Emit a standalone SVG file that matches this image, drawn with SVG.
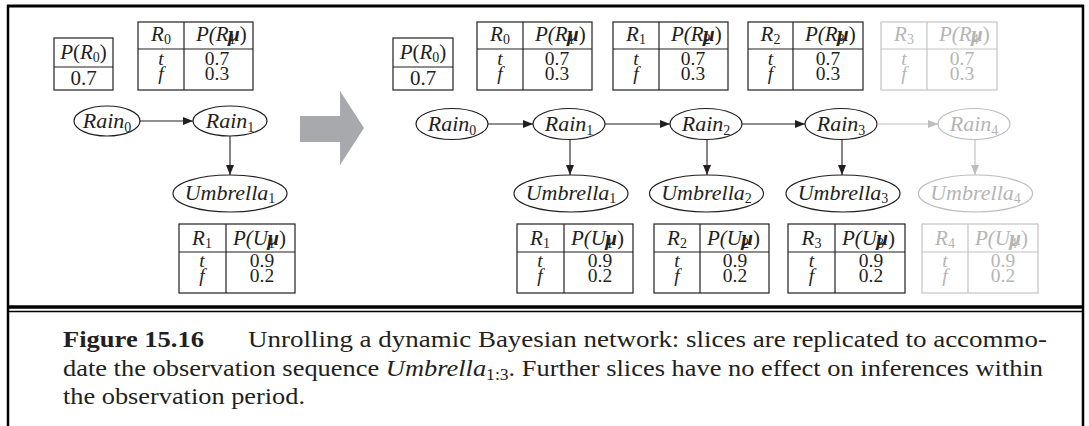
<svg xmlns="http://www.w3.org/2000/svg" width="1089" height="426" viewBox="0 0 1089 426" font-family="'Liberation Serif', 'Times New Roman', Tinos, Times, serif">
<style>
.frame{stroke:#000;fill:none}
.tb{fill:none;stroke:#231f20;stroke-width:1.2}
.tbg{fill:none;stroke:#c4c4c4;stroke-width:1.2}
.t{font-family:'Liberation Serif','Times New Roman',Tinos,Times,serif;font-size:21px;fill:#231f20}
.v{font-size:19.5px}
.n{font-size:22px}
.g .t{fill:#b5b5b5}
.i{font-style:italic}
.c{text-anchor:middle}
.sub{font-size:14px;font-style:normal}
.node{fill:#fff;stroke:#231f20;stroke-width:1.2}
.g .node{stroke:#bdbdbd}
.edge{stroke:#231f20;stroke-width:1.1;fill:none}
.edgeg{stroke:#bdbdbd;stroke-width:1.1;fill:none}
.cap{font-family:'Liberation Serif','Times New Roman',Tinos,Times,serif;font-size:24px;fill:#231f20}
</style>
<defs>
<marker id="ah" viewBox="0 0 10 8" refX="10" refY="4" markerWidth="10" markerHeight="8" markerUnits="userSpaceOnUse" orient="auto"><path d="M0,0 L10,4 L0,8 z" fill="#231f20"/></marker>
<marker id="ahg" viewBox="0 0 10 8" refX="10" refY="4" markerWidth="10" markerHeight="8" markerUnits="userSpaceOnUse" orient="auto"><path d="M0,0 L10,4 L0,8 z" fill="#bdbdbd"/></marker>
</defs>
<rect width="1089" height="426" fill="#fff"/>
<g id="frame" class="frame">
<line x1="7" y1="6" x2="1084" y2="6" stroke-width="3"/>
<line x1="8" y1="5" x2="8" y2="426" stroke-width="2.5"/>
<line x1="1083" y1="5" x2="1083" y2="426" stroke-width="2.5"/>
<line x1="7" y1="307" x2="1084" y2="307" stroke-width="3.5"/>
<line x1="7" y1="311.5" x2="1084" y2="311.5" stroke-width="1.6"/>
</g>
<polygon id="unroll-arrow" points="300,116 340,116 340,91 364,128 340,165 340,142 300,142" fill="#a7a9ac"/>

<!-- LEFT DIAGRAM -->
<g id="left-prior">
<rect class="tb" x="54" y="38" width="59" height="52"/><line class="tb" x1="54" y1="67" x2="113" y2="67"/>
<text class="t c" x="83.5" y="59"><tspan class="i">P</tspan>(<tspan class="i">R</tspan><tspan class="sub" dy="3">0</tspan><tspan dy="-3">)</tspan></text>
<text class="t c" x="83.5" y="85">0.7</text>
</g>
<g id="left-trans">
<rect class="tb" x="138" y="22" width="115" height="68"/><line class="tb" x1="138" y1="49" x2="253" y2="49"/><line class="tb" x1="184" y1="22" x2="184" y2="90"/>
<text class="t c i" x="161" y="41">R<tspan class="sub" dy="3">0</tspan></text>
<text class="t i" x="196" y="41">P(R<tspan class="sub" dy="3">1</tspan><tspan dx="-8" dy="-3" font-weight="bold">µ</tspan><tspan font-style="normal">)</tspan></text>
<text class="t v c i" x="161" y="65">t</text><text class="t v c i" x="161" y="80">f</text>
<text class="t v c" x="217" y="65">0.7</text><text class="t v c" x="217" y="80">0.3</text>
</g>
<g id="left-rain0"><ellipse class="node" cx="107" cy="121" rx="33" ry="15"/><text class="t n c i" x="107" y="128">Rain<tspan class="sub" dy="4">0</tspan></text></g>
<g id="left-rain1"><ellipse class="node" cx="230" cy="121" rx="37" ry="15"/><text class="t n c i" x="230" y="128">Rain<tspan class="sub" dy="4">1</tspan></text></g>
<g id="left-umbrella1"><ellipse class="node" cx="230" cy="193.5" rx="57" ry="18.5"/><text class="t n c i" x="230" y="200">Umbrella<tspan class="sub" dy="3">1</tspan></text></g>
<g id="left-sensor">
<rect class="tb" x="179" y="224" width="116" height="69"/><line class="tb" x1="179" y1="252" x2="295" y2="252"/><line class="tb" x1="226" y1="224" x2="226" y2="293"/>
<text class="t c i" x="202" y="245">R<tspan class="sub" dy="3">1</tspan></text>
<text class="t i" x="233" y="245">P(U<tspan class="sub" dy="3">1</tspan><tspan dx="-8" dy="-3" font-weight="bold">µ</tspan><tspan font-style="normal">)</tspan></text>
<text class="t v c i" x="202" y="267">t</text><text class="t v c i" x="202" y="282">f</text>
<text class="t v c" x="262" y="267">0.9</text><text class="t v c" x="262" y="282">0.2</text>
</g>

<!-- MAIN DIAGRAM -->
<g id="prior">
<rect class="tb" x="393" y="38" width="60" height="52"/><line class="tb" x1="393" y1="67" x2="453" y2="67"/>
<text class="t c" x="423" y="59"><tspan class="i">P</tspan>(<tspan class="i">R</tspan><tspan class="sub" dy="3">0</tspan><tspan dy="-3">)</tspan></text>
<text class="t c" x="423" y="85">0.7</text>
</g>
<g id="trans0">
<rect class="tb" x="477" y="22" width="115" height="68"/><line class="tb" x1="477" y1="49" x2="592" y2="49"/><line class="tb" x1="523" y1="22" x2="523" y2="90"/>
<text class="t c i" x="500" y="41">R<tspan class="sub" dy="3">0</tspan></text>
<text class="t i" x="535" y="41">P(R<tspan class="sub" dy="3">1</tspan><tspan dx="-8" dy="-3" font-weight="bold">µ</tspan><tspan font-style="normal">)</tspan></text>
<text class="t v c i" x="500" y="65">t</text><text class="t v c i" x="500" y="80">f</text>
<text class="t v c" x="557" y="65">0.7</text><text class="t v c" x="557" y="80">0.3</text>
</g>
<g id="trans1">
<rect class="tb" x="613" y="22" width="115" height="68"/><line class="tb" x1="613" y1="49" x2="728" y2="49"/><line class="tb" x1="659" y1="22" x2="659" y2="90"/>
<text class="t c i" x="636" y="41">R<tspan class="sub" dy="3">1</tspan></text>
<text class="t i" x="671" y="41">P(R<tspan class="sub" dy="3">2</tspan><tspan dx="-8" dy="-3" font-weight="bold">µ</tspan><tspan font-style="normal">)</tspan></text>
<text class="t v c i" x="636" y="65">t</text><text class="t v c i" x="636" y="80">f</text>
<text class="t v c" x="693" y="65">0.7</text><text class="t v c" x="693" y="80">0.3</text>
</g>
<g id="trans2">
<rect class="tb" x="748" y="22" width="115" height="68"/><line class="tb" x1="748" y1="49" x2="863" y2="49"/><line class="tb" x1="793" y1="22" x2="793" y2="90"/>
<text class="t c i" x="770.5" y="41">R<tspan class="sub" dy="3">2</tspan></text>
<text class="t i" x="805" y="41">P(R<tspan class="sub" dy="3">3</tspan><tspan dx="-8" dy="-3" font-weight="bold">µ</tspan><tspan font-style="normal">)</tspan></text>
<text class="t v c i" x="770.5" y="65">t</text><text class="t v c i" x="770.5" y="80">f</text>
<text class="t v c" x="828" y="65">0.7</text><text class="t v c" x="828" y="80">0.3</text>
</g>
<g id="trans3" class="g">
<rect class="tbg" x="881" y="22" width="116" height="68"/><line class="tbg" x1="881" y1="49" x2="997" y2="49"/><line class="tbg" x1="927" y1="22" x2="927" y2="90"/>
<text class="t c i" x="904" y="41">R<tspan class="sub" dy="3">3</tspan></text>
<text class="t i" x="939" y="41">P(R<tspan class="sub" dy="3">4</tspan><tspan dx="-8" dy="-3" font-weight="bold">µ</tspan><tspan font-style="normal">)</tspan></text>
<text class="t v c i" x="904" y="65">t</text><text class="t v c i" x="904" y="80">f</text>
<text class="t v c" x="962" y="65">0.7</text><text class="t v c" x="962" y="80">0.3</text>
</g>

<g id="rain0"><ellipse class="node" cx="452" cy="124" rx="36" ry="15.5"/><text class="t n c i" x="452" y="131">Rain<tspan class="sub" dy="4">0</tspan></text></g>
<g id="rain1"><ellipse class="node" cx="569" cy="124" rx="36" ry="15.5"/><text class="t n c i" x="569" y="131">Rain<tspan class="sub" dy="4">1</tspan></text></g>
<g id="rain2"><ellipse class="node" cx="706" cy="124" rx="36" ry="15.5"/><text class="t n c i" x="706" y="131">Rain<tspan class="sub" dy="4">2</tspan></text></g>
<g id="rain3"><ellipse class="node" cx="841" cy="124" rx="36" ry="15.5"/><text class="t n c i" x="841" y="131">Rain<tspan class="sub" dy="4">3</tspan></text></g>
<g id="rain4" class="g"><ellipse class="node" cx="974" cy="124" rx="36" ry="15.5"/><text class="t n c i" x="974" y="131">Rain<tspan class="sub" dy="4">4</tspan></text></g>

<g id="umbrella1"><ellipse class="node" cx="571" cy="193.5" rx="57" ry="18.5"/><text class="t n c i" x="571" y="200">Umbrella<tspan class="sub" dy="3">1</tspan></text></g>
<g id="umbrella2"><ellipse class="node" cx="706.5" cy="193.5" rx="57" ry="18.5"/><text class="t n c i" x="706.5" y="200">Umbrella<tspan class="sub" dy="3">2</tspan></text></g>
<g id="umbrella3"><ellipse class="node" cx="843" cy="193.5" rx="57" ry="18.5"/><text class="t n c i" x="843" y="200">Umbrella<tspan class="sub" dy="3">3</tspan></text></g>
<g id="umbrella4" class="g"><ellipse class="node" cx="975.5" cy="193.5" rx="57" ry="18.5"/><text class="t n c i" x="975.5" y="200">Umbrella<tspan class="sub" dy="3">4</tspan></text></g>

<g id="sensor1">
<rect class="tb" x="517" y="224" width="116" height="69"/><line class="tb" x1="517" y1="252" x2="633" y2="252"/><line class="tb" x1="564" y1="224" x2="564" y2="293"/>
<text class="t c i" x="540" y="245">R<tspan class="sub" dy="3">1</tspan></text>
<text class="t i" x="571" y="245">P(U<tspan class="sub" dy="3">1</tspan><tspan dx="-8" dy="-3" font-weight="bold">µ</tspan><tspan font-style="normal">)</tspan></text>
<text class="t v c i" x="540" y="267">t</text><text class="t v c i" x="540" y="282">f</text>
<text class="t v c" x="600" y="267">0.9</text><text class="t v c" x="600" y="282">0.2</text>
</g>
<g id="sensor2">
<rect class="tb" x="654" y="224" width="115" height="69"/><line class="tb" x1="654" y1="252" x2="769" y2="252"/><line class="tb" x1="700" y1="224" x2="700" y2="293"/>
<text class="t c i" x="677" y="245">R<tspan class="sub" dy="3">2</tspan></text>
<text class="t i" x="707" y="245">P(U<tspan class="sub" dy="3">2</tspan><tspan dx="-8" dy="-3" font-weight="bold">µ</tspan><tspan font-style="normal">)</tspan></text>
<text class="t v c i" x="677" y="267">t</text><text class="t v c i" x="677" y="282">f</text>
<text class="t v c" x="735" y="267">0.9</text><text class="t v c" x="735" y="282">0.2</text>
</g>
<g id="sensor3">
<rect class="tb" x="788" y="224" width="117" height="69"/><line class="tb" x1="788" y1="252" x2="905" y2="252"/><line class="tb" x1="835" y1="224" x2="835" y2="293"/>
<text class="t c i" x="811.5" y="245">R<tspan class="sub" dy="3">3</tspan></text>
<text class="t i" x="842" y="245">P(U<tspan class="sub" dy="3">3</tspan><tspan dx="-8" dy="-3" font-weight="bold">µ</tspan><tspan font-style="normal">)</tspan></text>
<text class="t v c i" x="811.5" y="267">t</text><text class="t v c i" x="811.5" y="282">f</text>
<text class="t v c" x="871" y="267">0.9</text><text class="t v c" x="871" y="282">0.2</text>
</g>
<g id="sensor4" class="g">
<rect class="tbg" x="922" y="224" width="116" height="69"/><line class="tbg" x1="922" y1="252" x2="1038" y2="252"/><line class="tbg" x1="968" y1="224" x2="968" y2="293"/>
<text class="t c i" x="945" y="245">R<tspan class="sub" dy="3">4</tspan></text>
<text class="t i" x="975" y="245">P(U<tspan class="sub" dy="3">4</tspan><tspan dx="-8" dy="-3" font-weight="bold">µ</tspan><tspan font-style="normal">)</tspan></text>
<text class="t v c i" x="945" y="267">t</text><text class="t v c i" x="945" y="282">f</text>
<text class="t v c" x="1003" y="267">0.9</text><text class="t v c" x="1003" y="282">0.2</text>
</g>

<g id="connectors">
<line class="edge" x1="140" y1="121" x2="193" y2="121" marker-end="url(#ah)"/>
<line class="edge" x1="230" y1="136" x2="230" y2="175" marker-end="url(#ah)"/>
<line class="edge" x1="488" y1="124" x2="533" y2="124" marker-end="url(#ah)"/>
<line class="edge" x1="605" y1="124" x2="670" y2="124" marker-end="url(#ah)"/>
<line class="edge" x1="742" y1="124" x2="805" y2="124" marker-end="url(#ah)"/>
<line class="edgeg" x1="877" y1="124" x2="938" y2="124" marker-end="url(#ahg)"/>
<line class="edge" x1="570" y1="139.5" x2="570" y2="175" marker-end="url(#ah)"/>
<line class="edge" x1="707" y1="139.5" x2="707" y2="175" marker-end="url(#ah)"/>
<line class="edge" x1="842" y1="139.5" x2="842" y2="175" marker-end="url(#ah)"/>
<line class="edgeg" x1="975" y1="139.5" x2="975" y2="175" marker-end="url(#ahg)"/>
</g>

<g id="caption">
<text class="cap" x="63" y="347" font-weight="bold" textLength="141" lengthAdjust="spacingAndGlyphs">Figure 15.16</text>
<text class="cap" x="248" y="347" textLength="799" lengthAdjust="spacingAndGlyphs">Unrolling a dynamic Bayesian network: slices are replicated to accommo-</text>
<text class="cap" x="63" y="376" textLength="980" lengthAdjust="spacingAndGlyphs">date the observation sequence <tspan font-style="italic">Umbrella</tspan><tspan font-size="16" dy="4">1:3</tspan><tspan dy="-4">. Further slices have no effect on inferences within</tspan></text>
<text class="cap" x="63" y="404" textLength="242" lengthAdjust="spacingAndGlyphs">the observation period.</text>
</g>
</svg>
